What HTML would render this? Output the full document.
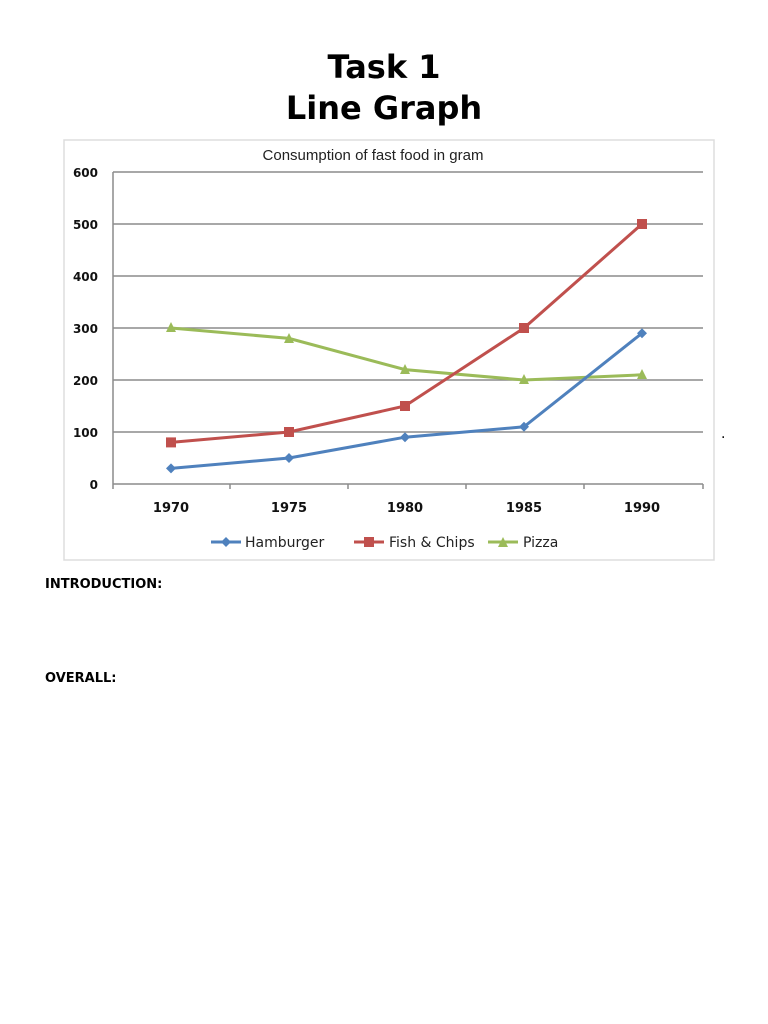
<!DOCTYPE html>
<html><head><style>
body{margin:0;width:768px;height:1024px;background:#fff;position:relative;font-family:"DejaVu Sans","Liberation Sans",sans-serif;}
.t{position:absolute;left:0;width:768px;text-align:center;font-weight:bold;font-size:32px;}
.h{position:absolute;left:45px;font-weight:bold;font-size:13px;}
</style></head><body>
<div class="t" style="top:48px">Task 1</div>
<div class="t" style="top:89px">Line Graph</div>
<svg style="position:absolute;left:0;top:0" width="768" height="600">
<rect x="64" y="140" width="650" height="420" fill="#fff" stroke="#ddd" stroke-width="1.5"/>
<text x="373" y="160" font-family="Liberation Sans,sans-serif" font-size="15" text-anchor="middle" fill="#222">Consumption of fast food in gram</text>
<g stroke="#8c8c8c" stroke-width="1.5">
<line x1="113" y1="172" x2="703" y2="172"/><line x1="113" y1="224" x2="703" y2="224"/>
<line x1="113" y1="276" x2="703" y2="276"/><line x1="113" y1="328" x2="703" y2="328"/>
<line x1="113" y1="380" x2="703" y2="380"/><line x1="113" y1="432" x2="703" y2="432"/>
<line x1="113" y1="484" x2="703" y2="484"/><line x1="113" y1="172" x2="113" y2="489"/>
<line x1="230" y1="484" x2="230" y2="489"/><line x1="348" y1="484" x2="348" y2="489"/>
<line x1="466" y1="484" x2="466" y2="489"/><line x1="584" y1="484" x2="584" y2="489"/>
<line x1="703" y1="484" x2="703" y2="489"/>
</g>
<g font-family="DejaVu Sans,sans-serif" font-size="12" font-weight="bold" fill="#111" text-anchor="end">
<text x="98" y="177">600</text><text x="98" y="229">500</text><text x="98" y="281">400</text>
<text x="98" y="333">300</text><text x="98" y="385">200</text><text x="98" y="437">100</text><text x="98" y="489">0</text>
</g>
<g font-family="DejaVu Sans,sans-serif" font-size="13" font-weight="bold" fill="#111" text-anchor="middle">
<text x="171" y="512">1970</text><text x="289" y="512">1975</text><text x="405" y="512">1980</text>
<text x="524" y="512">1985</text><text x="642" y="512">1990</text>
</g>
<polyline points="171,328 289,338.4 405,369.6 524,380 642,374.8" fill="none" stroke="#9bbb59" stroke-width="3"/>
<polyline points="171,442.4 289,432 405,406 524,328 642,224" fill="none" stroke="#c0504d" stroke-width="3"/>
<polyline points="171,468.4 289,458 405,437.2 524,426.8 642,333.2" fill="none" stroke="#4f81bd" stroke-width="3"/>
<g fill="#9bbb59">
<polygon points="171,322 176,332 166,332"/><polygon points="289,333 294,343 284,343"/><polygon points="405,364 410,374 400,374"/><polygon points="524,374 529,384 519,384"/><polygon points="642,369 647,379 637,379"/>
</g>
<g fill="#c0504d">
<rect x="166" y="437.4" width="10" height="10"/><rect x="284" y="427" width="10" height="10"/><rect x="400" y="401" width="10" height="10"/><rect x="519" y="323" width="10" height="10"/><rect x="637" y="219" width="10" height="10"/>
</g>
<g fill="#4f81bd">
<polygon points="171,463.4 176,468.4 171,473.4 166,468.4"/><polygon points="289,453 294,458 289,463 284,458"/><polygon points="405,432.2 410,437.2 405,442.2 400,437.2"/><polygon points="524,421.8 529,426.8 524,431.8 519,426.8"/><polygon points="642,328.2 647,333.2 642,338.2 637,333.2"/>
</g>
<line x1="211" y1="542" x2="241" y2="542" stroke="#4f81bd" stroke-width="3"/><polygon points="226,537 231,542 226,547 221,542" fill="#4f81bd"/>
<line x1="354" y1="542" x2="384" y2="542" stroke="#c0504d" stroke-width="3"/><rect x="364" y="537" width="10" height="10" fill="#c0504d"/>
<line x1="488" y1="542" x2="518" y2="542" stroke="#9bbb59" stroke-width="3"/><polygon points="503,537 508,547 498,547" fill="#9bbb59"/>
<g font-family="DejaVu Sans,sans-serif" font-size="14" fill="#222">
<text x="245" y="547">Hamburger</text><text x="389" y="547">Fish &amp; Chips</text><text x="523" y="547">Pizza</text>
</g>
<text x="721" y="438" font-size="14" fill="#000">.</text>
</svg>
<div class="h" style="top:577px">INTRODUCTION:</div>
<div class="h" style="top:671px">OVERALL:</div>
</body></html>
